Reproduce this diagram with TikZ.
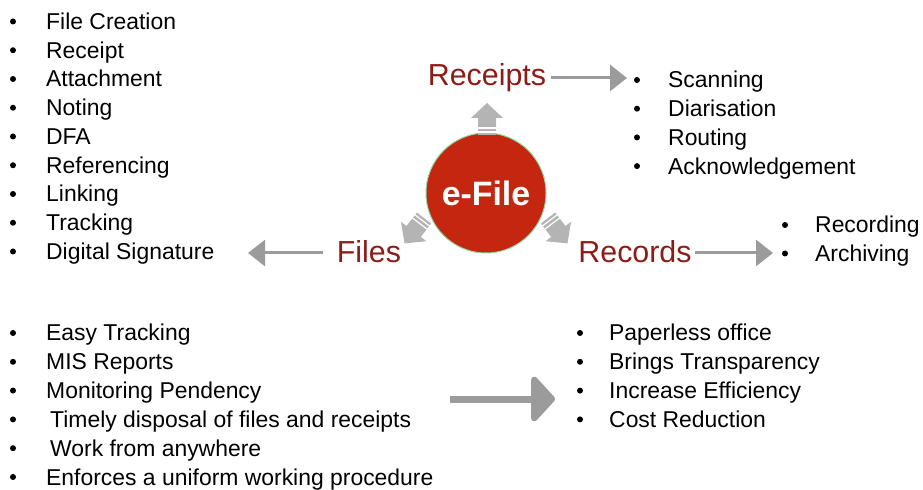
\documentclass[tikz,border=0pt]{standalone}
\usepackage{fontspec}
\setmainfont{Liberation Sans}
\usetikzlibrary{arrows.meta,calc}

\definecolor{efred}{HTML}{C4260F}
\definecolor{rimgreen}{HTML}{8ED9A6}
\definecolor{titlered}{HTML}{8B1C17}
\definecolor{arrowgray}{HTML}{9B9B9B}
\definecolor{fatgray}{HTML}{B4B4B4}

\begin{document}
\begin{tikzpicture}
        [x=1bp,y=-1bp,every node/.style={inner sep=0},
         item/.style={anchor=base west,font=\fontsize{23}{27}\selectfont},
         dot/.style={circle,fill=black,minimum size=6bp},
         title/.style={anchor=base,text=titlered,font=\fontsize{30.5}{36}\selectfont},
         flow/.style={draw=arrowgray,line width=3bp,-{Triangle[length=17bp,width=26bp]}},
         bigflow/.style={draw=arrowgray,line width=7bp,-{Triangle[length=25bp,width=53bp,round]}},
         fatarrow/.pic={
           \fill[fatgray] (0,-9) -- (17,-9) -- (17,-16) -- (32,0) -- (17,16) -- (17,9) -- (0,9) -- cycle;
           \draw[white,line width=1.2bp] (3,-10) -- (3,10) (7,-10) -- (7,10);
         }]

        \useasboundingbox (0,0) rectangle (923,490);

        \node[circle,fill=efred,draw=rimgreen,line width=1bp,minimum size=120bp,
              text=white,font=\fontsize{34}{40}\selectfont\bfseries] (efile) at (486,193) {e-File};

        \node[title] (receipts) at (487,86) {Receipts};
        \node[title] (files) at (369,263) {Files};
        \node[title] (records) at (635,263) {Records};

        % fat arrows out of the circle
        \pic[rotate=90] at (487,135) {fatarrow};
        \pic[rotate=232.5] at (424,218) {fatarrow};
        \pic[rotate=307.5] at (548,218) {fatarrow};

        \coordinate (recTip) at (627,78);
        \coordinate (filTip) at (248,253);
        \coordinate (rcdTip) at (773,253);
        \draw[flow] ([xshift=5bp]receipts.east |- recTip) -- (recTip);
        \draw[flow] ([xshift=-14bp]files.west |- filTip) -- (filTip);
        \draw[flow] ([xshift=3bp]records.east |- rcdTip) -- (rcdTip);

        \coordinate (bigA) at (450,399);
        \coordinate (bigB) at (555,399);
        \draw[bigflow] (bigA) -- (bigB);

        % file functions
        \foreach \txt [count=\i] in {File Creation, Receipt, Attachment, Noting, DFA,
            Referencing, Linking, Tracking, Digital Signature} {
          \node[dot] (fd\i) at (13,{21.5+28.75*(\i-1)}) {};
          \node[item] (fn\i) at (46,{29.5+28.75*(\i-1)}) {\txt};
        }

        % receipt functions
        \foreach \txt [count=\i] in {Scanning, Diarisation, Routing, Acknowledgement} {
          \node[dot] (rd\i) at (637,{80+28.7*(\i-1)}) {};
          \node[item] (rn\i) at (668,{88+28.7*(\i-1)}) {\txt};
        }

        % record functions
        \foreach \txt [count=\i] in {Recording, Archiving} {
          \node[dot] (cd\i) at (785,{225+28.5*(\i-1)}) {};
          \node[item] (cn\i) at (815,{233+28.5*(\i-1)}) {\txt};
        }

        % features
        \foreach \txt [count=\i] in {Easy Tracking, MIS Reports, Monitoring Pendency,
            \hspace{4bp}Timely disposal of files and receipts, \hspace{4bp}Work from anywhere,
            Enforces a uniform working procedure} {
          \node[dot] (ed\i) at (13,{333+28.8*(\i-1)}) {};
          \node[item] (en\i) at (46,{341+28.8*(\i-1)}) {\txt};
        }

        % benefits
        \foreach \txt [count=\i] in {Paperless office, Brings Transparency,
            Increase Efficiency, Cost Reduction} {
          \node[dot] (bd\i) at (580,{333+28.8*(\i-1)}) {};
          \node[item] (bn\i) at (609,{341+28.8*(\i-1)}) {\txt};
        }

\end{tikzpicture}
\end{document}
